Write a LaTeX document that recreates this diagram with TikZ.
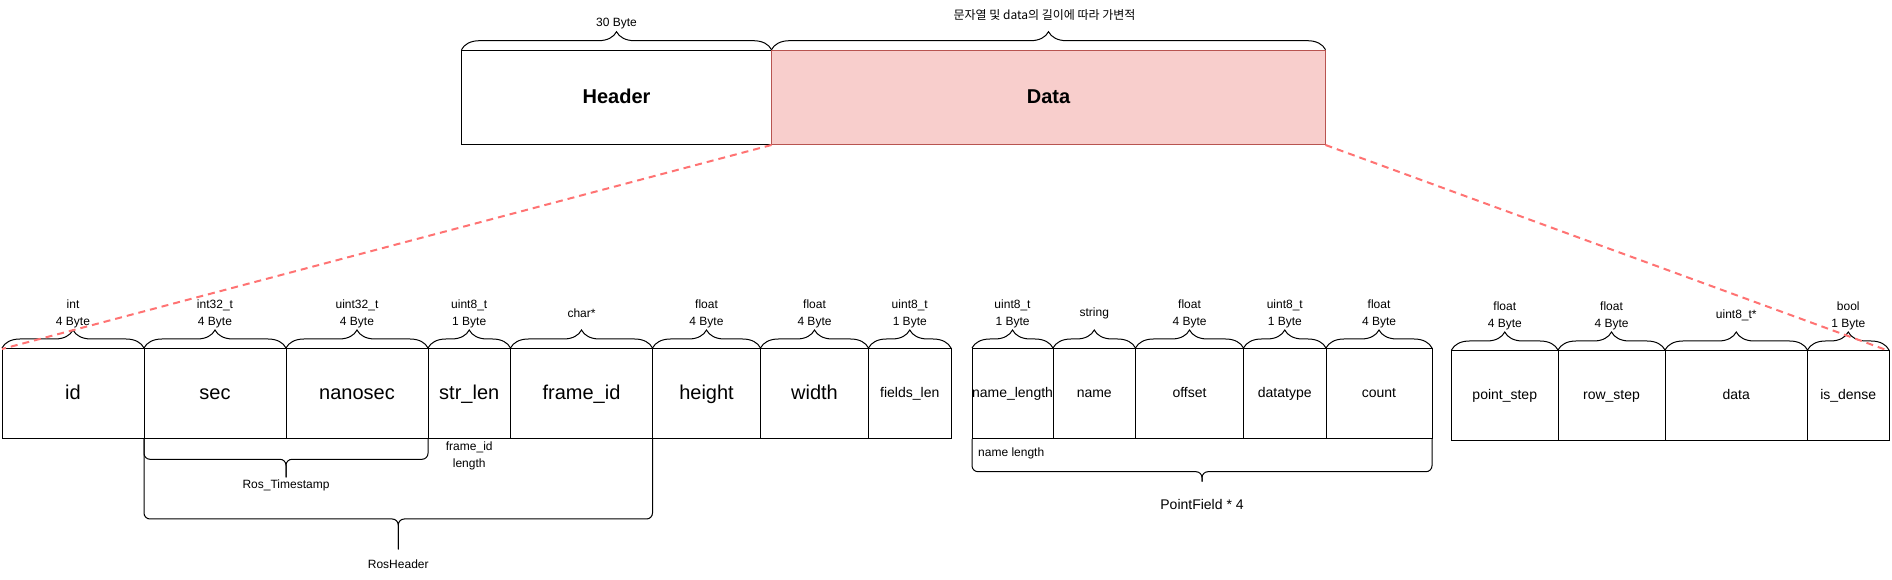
\documentclass[tikz,border=0pt]{standalone}
\usepackage{fontspec}
\setmainfont{Liberation Sans}
\newfontfamily\kofont{Noto Sans CJK KR}
\usepackage{tikz}
\usetikzlibrary{positioning, calc, decorations.pathreplacing}
\definecolor{datafill}{HTML}{F8CECC}
\definecolor{dataline}{HTML}{B85450}
\definecolor{zoomred}{HTML}{FF7373}
\tikzstyle{field} = [draw, line width=1pt, inner sep=0pt, outer sep=0pt, minimum height=90pt, text height=14.5pt, text depth=4pt, font=\fontsize{20}{24}\selectfont]
\tikzstyle{subfield} = [field, text height=10pt, text depth=3pt, font=\fontsize{14}{17}\selectfont]
\tikzstyle{block} = [draw, line width=1pt, inner sep=0pt, outer sep=0pt, minimum height=94.3pt, text height=14.5pt, text depth=4pt, font=\bfseries\fontsize{20}{24}\selectfont]
\tikzstyle{bytelabel} = [align=center, inner sep=0pt, font=\fontsize{12}{16.7}\selectfont]
\tikzstyle{topbrace} = [decorate, decoration={brace, amplitude=18pt, raise=1pt}, line width=1pt]
\tikzstyle{groupbrace} = [line width=1pt, rounded corners=6pt]
\tikzstyle{zoomline} = [draw=zoomred, line width=2pt, dash pattern=on 7pt off 5pt]

\begin{document}
\begin{tikzpicture}[x=1pt, y=1pt]
\useasboundingbox (0,0) rectangle (1892,580);

% message
\node[block, minimum width=310pt, anchor=north west] (Header) at (461.5,529.3) {Header};
\node[block, minimum width=554pt, right=0pt of Header, fill=datafill, draw=dataline] (Data) {Data};
\draw[topbrace] (Header.north west) -- (Header.north east);
\draw[topbrace] (Data.north west) -- (Data.north east);
\node[bytelabel] (headerT) at ($(Header.north)+(0,26.7)$) {30 Byte};
\node[bytelabel, font={\kofont\fontsize{12}{16.7}\selectfont}] (dataT) at ($(Data.north)+(-4,35.7)$) {문자열 및 data의 길이에 따라 가변적};

% RosHeader + size fields
\node[field, minimum width=142pt, anchor=north west] (id) at (2,231) {id};
\node[field, minimum width=142pt, right=0pt of id] (sec) {sec};
\node[field, minimum width=142pt, right=0pt of sec] (nanosec) {nanosec};
\node[field, minimum width=82.5pt, right=0pt of nanosec] (strlen) {str\_len};
\node[field, minimum width=142pt, right=0pt of strlen] (frameid) {frame\_id};
\node[field, minimum width=108pt, right=0pt of frameid] (height) {height};
\node[field, minimum width=108pt, right=0pt of height] (width) {width};
\node[subfield, minimum width=82.5pt, right=0pt of width] (fieldslen) {fields\_len};

% PointField
\node[subfield, minimum width=81pt, anchor=north west] (namelength) at (972,231) {name\_length};
\node[subfield, minimum width=82.5pt, right=0pt of namelength] (name) {name};
\node[subfield, minimum width=108pt, right=0pt of name] (offset) {offset};
\node[subfield, minimum width=82.5pt, right=0pt of offset] (datatype) {datatype};
\node[subfield, minimum width=106pt, right=0pt of datatype] (count) {count};

% tail
\node[subfield, minimum width=106.5pt, anchor=north west] (pointstep) at (1451.5,229) {point\_step};
\node[subfield, minimum width=107pt, right=0pt of pointstep] (rowstep) {row\_step};
\node[subfield, minimum width=142.5pt, right=0pt of rowstep] (pcdata) {data};
\node[subfield, minimum width=81.5pt, right=0pt of pcdata] (isdense) {is\_dense};

% type / size braces
\draw[topbrace] (id.north west) -- (id.north east);
\draw[topbrace] (sec.north west) -- (sec.north east);
\draw[topbrace] (nanosec.north west) -- (nanosec.north east);
\draw[topbrace] (strlen.north west) -- (strlen.north east);
\draw[topbrace] (frameid.north west) -- (frameid.north east);
\draw[topbrace] (height.north west) -- (height.north east);
\draw[topbrace] (width.north west) -- (width.north east);
\draw[topbrace] (fieldslen.north west) -- (fieldslen.north east);
\draw[topbrace] (namelength.north west) -- (namelength.north east);
\draw[topbrace] (name.north west) -- (name.north east);
\draw[topbrace] (offset.north west) -- (offset.north east);
\draw[topbrace] (datatype.north west) -- (datatype.north east);
\draw[topbrace] (count.north west) -- (count.north east);
\draw[topbrace] (pointstep.north west) -- (pointstep.north east);
\draw[topbrace] (rowstep.north west) -- (rowstep.north east);
\draw[topbrace] (pcdata.north west) -- (pcdata.north east);
\draw[topbrace] (isdense.north west) -- (isdense.north east);

\node[bytelabel] (idT) at ($(id.north)+(0,35)$) {int\\4 Byte};
\node[bytelabel] (secT) at ($(sec.north)+(0,35)$) {int32\_t\\4 Byte};
\node[bytelabel] (nanosecT) at ($(nanosec.north)+(0,35)$) {uint32\_t\\4 Byte};
\node[bytelabel] (strlenT) at ($(strlen.north)+(0,35)$) {uint8\_t\\1 Byte};
\node[bytelabel] (frameidT) at ($(frameid.north)+(0,36)$) {char*};
\node[bytelabel] (heightT) at ($(height.north)+(0,35)$) {float\\4 Byte};
\node[bytelabel] (widthT) at ($(width.north)+(0,35)$) {float\\4 Byte};
\node[bytelabel] (fieldslenT) at ($(fieldslen.north)+(0,35)$) {uint8\_t\\1 Byte};
\node[bytelabel] (namelengthT) at ($(namelength.north)+(0,35)$) {uint8\_t\\1 Byte};
\node[bytelabel] (nameT) at ($(name.north)+(0,36)$) {string};
\node[bytelabel] (offsetT) at ($(offset.north)+(0,35)$) {float\\4 Byte};
\node[bytelabel] (datatypeT) at ($(datatype.north)+(0,35)$) {uint8\_t\\1 Byte};
\node[bytelabel] (countT) at ($(count.north)+(0,35)$) {float\\4 Byte};
\node[bytelabel] (pointstepT) at ($(pointstep.north)+(0,35)$) {float\\4 Byte};
\node[bytelabel] (rowstepT) at ($(rowstep.north)+(0,35)$) {float\\4 Byte};
\node[bytelabel] (pcdataT) at ($(pcdata.north)+(0,36)$) {uint8\_t*};
\node[bytelabel] (isdenseT) at ($(isdense.north)+(0,35)$) {bool\\1 Byte};

% group braces
\coordinate (tsTip) at ($(sec.south west)!0.5!(nanosec.south east)+(0,-38.3)$);
\draw[groupbrace] (sec.south west) |- ($(tsTip)+(0,18)$) -- (tsTip);
\draw[groupbrace] (nanosec.south east) |- ($(tsTip)+(0,18)$) -- (tsTip);
\node[bytelabel] (tsLabel) at ($(tsTip)+(0,-8.4)$) {Ros\_Timestamp};

\coordinate (rhTip) at ($(sec.south west)!0.5!(frameid.south east)+(0,-110.3)$);
\draw[groupbrace] (sec.south west) |- ($(rhTip)+(0,30.3)$) -- (rhTip);
\draw[groupbrace] (frameid.south east) |- ($(rhTip)+(0,30.3)$) -- (rhTip);
\node[bytelabel] (rhLabel) at ($(rhTip)+(0,-14.7)$) {RosHeader};

\coordinate (pfTip) at ($(namelength.south west)!0.5!(count.south east)+(0,-42.7)$);
\draw[groupbrace] (namelength.south west) |- ($(pfTip)+(0,10)$) -- (pfTip);
\draw[groupbrace] (count.south east) |- ($(pfTip)+(0,10)$) -- (pfTip);
\node[bytelabel, font=\fontsize{14}{17}\selectfont] (pfLabel) at ($(pfTip)+(0,-22.3)$) {PointField * 4};

\node[bytelabel, anchor=west] (nlLabel) at ($(namelength.south west)+(6,-14.3)$) {name length};
\node[bytelabel] (flLabel) at ($(strlen.south)+(0,-17)$) {frame\_id\\length};

% zoom lines
\draw[zoomline] (Data.south west) -- (id.north west);
\draw[zoomline] (Data.south east) -- (isdense.north east);
\end{tikzpicture}
\end{document}
